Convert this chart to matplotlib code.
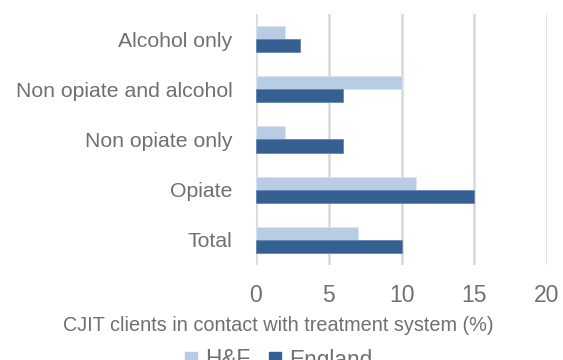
import numpy as np
from matplotlib import pyplot as plt
from matplotlib.patches import Patch

plt.rcParams['font.family'] = ['Liberation Sans', 'DejaVu Sans']

categories = ['Total', 'Opiate', 'Non opiate only', 'Non opiate and alcohol', 'Alcohol only']
hf = [7, 11, 2, 10, 2]
england = [10, 15, 6, 6, 3]
xticks = [0, 5, 10, 15, 20]

light = '#b8cce4'
dark = '#366092'
grey = '#707070'

fig = plt.figure(figsize=(5.63, 3.6), dpi=100)
ax = fig.add_axes([0.4547, 0.2639, 0.5169, 0.6972])

y = np.arange(len(categories))
h = 0.26
ax.barh(y + h / 2, hf, height=h, color=light, edgecolor='#dce6f1', linewidth=0.5, zorder=3)
ax.barh(y - h / 2, england, height=h, color=dark, edgecolor='#5a7fae', linewidth=0.5, zorder=3)

ax.set_xlim(0, 20)
ax.set_ylim(-0.5, 4.5)
ax.set_xticks(xticks)
ax.set_yticks(y)
ax.set_yticklabels(categories)
ax.grid(axis='x', color='#d9d9d9', linewidth=1.8, zorder=0)
for s in ax.spines.values():
    s.set_visible(False)
ax.tick_params(axis='y', length=0, pad=17, labelsize=15.3, labelcolor=grey)
ax.tick_params(axis='x', length=0, pad=14, labelsize=16.5, labelcolor=grey)

# axis title sits centred on the whole figure rather than the axes
fig.text(0.495, 0.097, 'CJIT clients in contact with treatment system (%)',
         ha='center', va='center', fontsize=14.3, color=grey)

handles = [Patch(color=light, label='H&F'), Patch(color=dark, label='England')]
fig.legend(handles=handles, loc='center', bbox_to_anchor=(0.495, 0.0), ncol=2, frameon=False,
           fontsize=16.3, labelcolor=grey, handlelength=0.55, handleheight=0.55,
           handletextpad=0.35, columnspacing=0.8, borderpad=0)

plt.savefig('out.png', dpi=100)
